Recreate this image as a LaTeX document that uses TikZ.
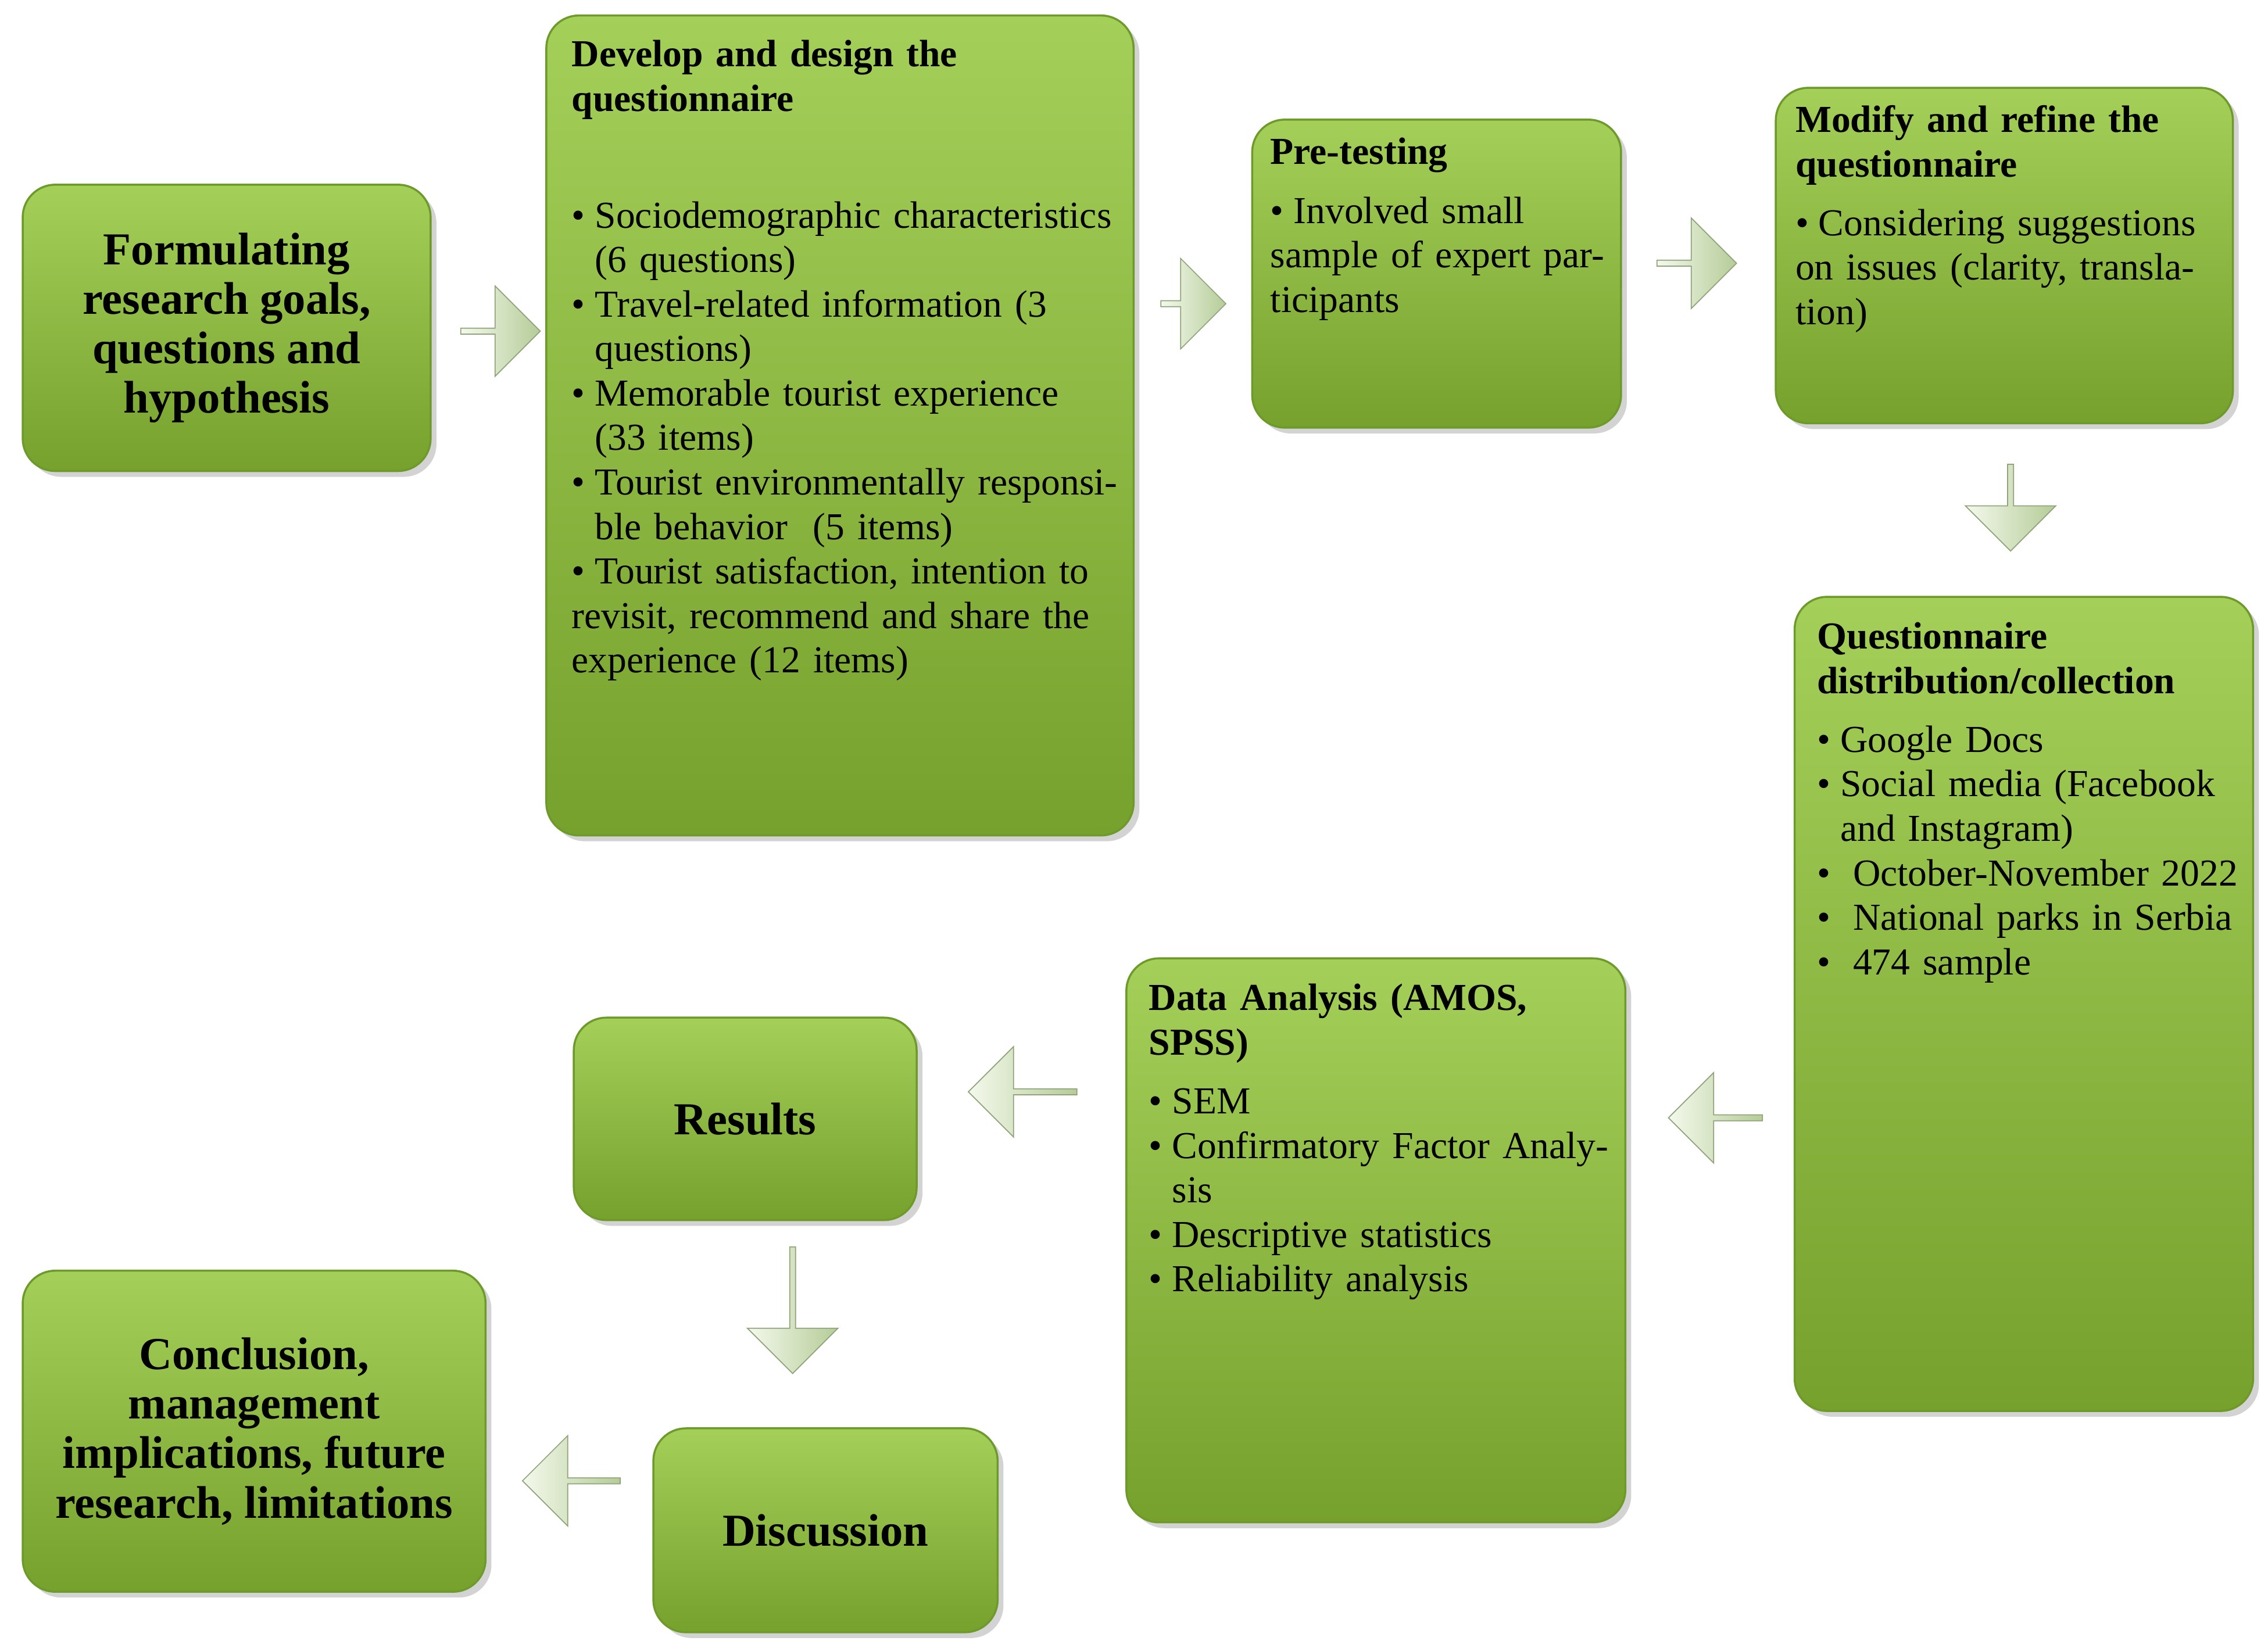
\documentclass[tikz,border=0pt]{standalone}
\usepackage{fontspec}
\setmainfont{Liberation Serif}
\usetikzlibrary{positioning, shapes.arrows, shadows}
\definecolor{stepgreentop}{HTML}{A4D05A}
\definecolor{stepgreenbot}{HTML}{76A12C}
\definecolor{stepedge}{HTML}{6E9A2C}
\definecolor{arrowlight}{HTML}{F4F9EC}
\definecolor{arrowdark}{HTML}{B5CC98}
\newcommand{\itm}[1]{\par\hangindent=0.32cm\hangafter=1\makebox[0.32cm][l]{\textbullet}#1}

\begin{document}
\begin{tikzpicture}[
        stepbox/.style={rectangle, rounded corners=0.45cm, anchor=north west, draw=stepedge, thick,
          top color=stepgreentop, bottom color=stepgreenbot, drop shadow={opacity=0.35}},
        steptext/.style={anchor=north west, align=left, inner sep=0pt, font=\fontsize{15}{17.5}\selectfont},
        bigtext/.style={align=center, font=\fontsize{18}{19.5}\selectfont\bfseries},
        blockarrow/.style={single arrow, draw=arrowdark!80!black, thin, left color=arrowlight, right color=arrowdark,
          minimum width=1.25cm, single arrow head extend=0.1cm, inner sep=0pt}]
      \useasboundingbox (0,0) rectangle (31.36,-22.79);
      % Boxes
      \node[stepbox, minimum width=5.64cm, minimum height=3.96cm] (goals) at (0.30,-2.54) {};
      \node[stepbox, minimum width=8.12cm, minimum height=11.34cm] (develop) at (7.54,-0.20) {};
      \node[stepbox, minimum width=5.10cm, minimum height=4.26cm] (pretest) at (17.30,-1.64) {};
      \node[stepbox, minimum width=6.32cm, minimum height=4.64cm] (modify) at (24.54,-1.20) {};
      \node[stepbox, minimum width=6.34cm, minimum height=11.26cm] (distrib) at (24.80,-8.24) {};
      \node[stepbox, minimum width=6.90cm, minimum height=7.80cm] (analysis) at (15.56,-13.24) {};
      \node[stepbox, minimum width=4.74cm, minimum height=2.80cm] (results) at (7.92,-14.06) {};
      \node[stepbox, minimum width=4.76cm, minimum height=2.82cm] (discuss) at (9.02,-19.74) {};
      \node[stepbox, minimum width=6.40cm, minimum height=4.44cm] (concl) at (0.30,-17.56) {};

      % Texts
      \node[bigtext] at (goals.center) {Formulating\\research goals,\\questions and\\hypothesis};
      \node[steptext, text width=7.6cm] at (7.90,-0.55) {\textbf{Develop and design the}\\\textbf{questionnaire}\\[1.0cm]
        \itm{Sociodemographic characteristics (6 questions)}
        \itm{Travel-related information (3 questions)}
        \itm{Memorable tourist experience (33 items)}
        \itm{Tourist environmentally responsible behavior~ (5 items)}
        \itm{Tourist satisfaction, intention to revisit, recommend and share the experience (12 items)}};
      \node[steptext, text width=4.7cm] at (17.56,-1.90) {\textbf{Pre-testing}\\[0.2cm]
        \itm{Involved small sample of expert participants}};
      \node[steptext, text width=5.9cm] at (24.82,-1.45) {\textbf{Modify and refine the}\\\textbf{questionnaire}\\[0.2cm]
        \itm{Considering suggestions on issues (clarity, translation)}};
      \node[steptext, text width=5.9cm] at (25.12,-8.60) {\textbf{Questionnaire}\\\textbf{distribution/collection}\\[0.2cm]
        \itm{Google Docs}
        \itm{Social media (Facebook and Instagram)}
        \itm{~October-November 2022}
        \itm{~National parks in Serbia}
        \itm{~474 sample}};
      \node[steptext, text width=6.4cm] at (15.88,-13.60) {\textbf{Data Analysis (AMOS,}\\\textbf{SPSS)}\\[0.2cm]
        \itm{SEM}
        \itm{Confirmatory Factor Analysis}
        \itm{Descriptive statistics}
        \itm{Reliability analysis}};
      \node[bigtext] at (results.center) {Results};
      \node[bigtext] at (discuss.center) {Discussion};
      \node[bigtext] at (concl.center) {Conclusion,\\management\\implications, future\\research, limitations};

      % Block arrows
      \node[blockarrow, minimum height=1.1cm] (a1) at (6.90,-4.58) {};
      \node[blockarrow, minimum height=0.9cm] (a2) at (16.48,-4.20) {};
      \node[blockarrow, minimum height=1.1cm] (a3) at (23.44,-3.64) {};
      \node[blockarrow, minimum height=1.2cm, shape border rotate=270] (a4) at (27.80,-7.00) {};
      \node[blockarrow, minimum height=1.3cm, shape border rotate=200] (a5) at (23.74,-15.46) {};
      \node[blockarrow, minimum height=1.5cm, shape border rotate=180] (a6) at (14.16,-15.10) {};
      \node[blockarrow, minimum height=1.75cm, shape border rotate=270] (a7) at (10.96,-18.10) {};
      \node[blockarrow, minimum height=1.35cm, shape border rotate=180] (a8) at (7.92,-20.48) {};
    \end{tikzpicture}
\end{document}
